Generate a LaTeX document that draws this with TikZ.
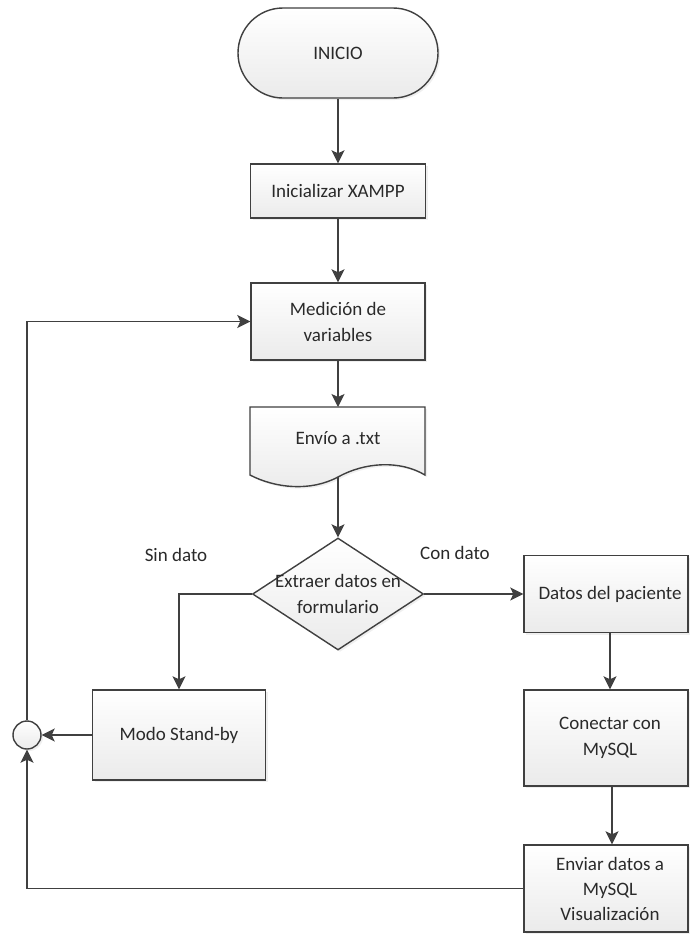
\documentclass[tikz,border=0pt]{standalone}
\usepackage{fontspec}
\setmainfont{Carlito}
\usetikzlibrary{arrows.meta,shapes.geometric,shadows}
\definecolor{edge}{HTML}{404040}
\definecolor{ink}{HTML}{2A2A2A}
\begin{document}
\begin{tikzpicture}[x=1pt,y=-1pt,
  base/.style={draw=edge, line width=1.4pt, top color=white, bottom color=black!8,
    drop shadow={opacity=0.12, shadow xshift=2pt, shadow yshift=-2pt}},
  proc/.style={base, rectangle, inner sep=0pt},
  lbl/.style={text=ink, font=\fontsize{19}{26}\selectfont, align=center},
  flow/.style={draw=edge, line width=1.4pt, -{Stealth[length=13pt,width=13pt,inset=3pt]}}]

% canvas
\useasboundingbox (0,0) rectangle (690,943);
\fill[white] (0,0) rectangle (690,943);

% terminator
\node[base, rectangle, rounded corners=45pt, minimum width=200pt, minimum height=90pt, lbl] (inicio) at (338,53) {INICIO};

% process boxes
\node[proc, minimum width=175pt, minimum height=54pt, lbl] (xampp) at (338,191) {Inicializar XAMPP};
\node[proc, minimum width=174pt, minimum height=77pt, lbl] (med) at (338,321.5) {Medición de\\variables};

% document shape
\path[base] (250,407) -- (425,407) -- (425,475)
  .. controls (400,460) and (365,462) .. (338,477)
  .. controls (310,492) and (275,488) .. (250,475) -- cycle;
\node[lbl] (env) at (338,438) {Envío a .txt};
\coordinate (envtop) at (338,407);
\coordinate (envbot) at (338,477);

% decision
\node[base, diamond, minimum width=171pt, minimum height=112pt, inner sep=0pt] (dec) at (338,594) {};
\node[lbl] (dectext) at (338,594) {Extraer datos en\\formulario};

% right branch
\node[proc, minimum width=164pt, minimum height=77pt, lbl] (datos) at (606,594) {\hspace*{8pt}Datos del paciente};
\node[proc, minimum width=164pt, minimum height=96pt, lbl] (conectar) at (606,738) {\hspace*{8pt}Conectar con\\\hspace*{8pt}MySQL};
\node[proc, minimum width=164pt, minimum height=87pt, lbl, font=\fontsize{19}{25}\selectfont] (enviar) at (606,888.5) {\hspace*{8pt}Enviar datos a\\\hspace*{8pt}MySQL\\\hspace*{8pt}Visualización};

% left branch
\node[proc, minimum width=173pt, minimum height=90pt, lbl] (standby) at (179,735) {Modo Stand-by};
\node[base, circle, minimum size=28pt, inner sep=0pt] (junc) at (27,735) {};

% branch labels
\node[lbl] (sin) at (176,555) {Sin dato};
\node[lbl] (con) at (455,553) {Con dato};

% connectors
\draw[flow] (inicio.south) -- (xampp.north);
\draw[flow] (xampp.south) -- (med.north);
\draw[flow] (med.south) -- (envtop);
\draw[flow] (envbot) -- (dec.north);
\draw[flow] (dec.west) -| (standby.north);
\draw[flow] (dec.east) -- (datos.west);
\draw[flow] ([xshift=4pt]datos.south) -- ([xshift=4pt]conectar.north);
\draw[flow] ([xshift=6pt]conectar.south) -- ([xshift=6pt]enviar.north);
\draw[flow] (standby.west) -- (junc.east);
\draw[flow] (enviar.west) -| (junc.south);
\draw[flow] (junc.north) |- (med.west);
\end{tikzpicture}
\end{document}
